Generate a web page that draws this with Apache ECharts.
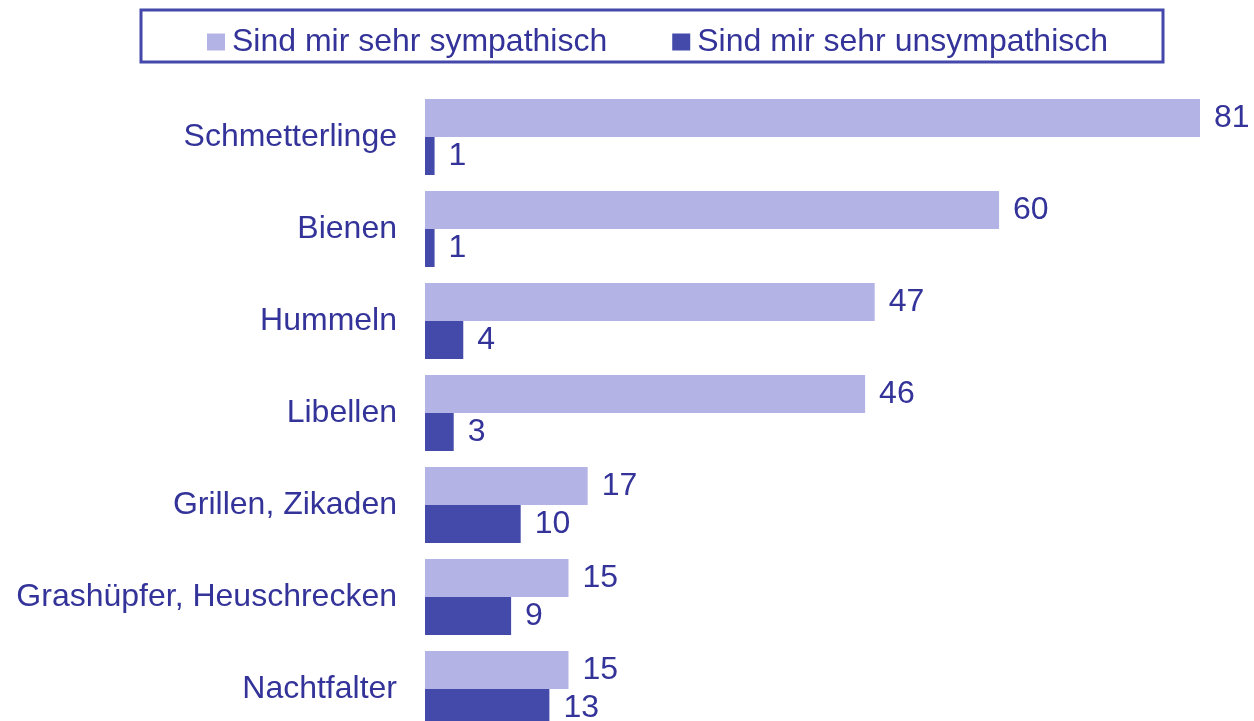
<!DOCTYPE html>
<html>
<head>
<meta charset="utf-8">
<script src="https://cdn.jsdelivr.net/npm/echarts@6/dist/echarts.min.js"></script>
<style>
  html, body { margin: 0; padding: 0; background: #ffffff; }
  #chart { width: 1254px; height: 721px; }
</style>
</head>
<body>
<div id="chart"></div>
<script>
// Insekten: sympathisch / unsympathisch (Prozent)
var categories = [
  "Schmetterlinge",
  "Bienen",
  "Hummeln",
  "Libellen",
  "Grillen, Zikaden",
  "Grashüpfer, Heuschrecken",
  "Nachtfalter"
];
var sympathisch = [81, 60, 47, 46, 17, 15, 15];
var unsympathisch = [1, 1, 4, 3, 10, 9, 13];
var seriesNames = ["Sind mir sehr sympathisch", "Sind mir sehr unsympathisch"];

var textColor = "#333399";
var fontFam = "'Liberation Sans', Arial, sans-serif";

var chart = echarts.init(document.getElementById("chart"));

var option = {
  backgroundColor: "#ffffff",
  animation: false,
  color: ["#b3b3e5", "#434aaa"],
  graphic: [
    {
      type: "rect",
      shape: { x: 141, y: 10, width: 1022, height: 52 },
      style: { fill: "none", stroke: "#4448aa", lineWidth: 3 },
      z: 10
    }
  ],
  legend: {
    left: 202,
    top: 21,
    itemWidth: 18,
    itemHeight: 17,
    itemGap: 65,
    icon: "rect",
    textStyle: {
      color: textColor,
      fontSize: 32,
      fontFamily: fontFam,
      lineHeight: 32,
      padding: [0, 0, 0, 2]
    },
    data: seriesNames
  },
  grid: {
    left: 425,
    right: 54,
    top: 91,
    height: 644,
    outerBoundsMode: "none",
    containLabel: false
  },
  xAxis: {
    type: "value",
    min: 0,
    max: 81,
    show: false
  },
  yAxis: {
    type: "category",
    inverse: true,
    data: categories,
    axisLine: { show: false },
    axisTick: { show: false },
    axisLabel: {
      color: textColor,
      fontSize: 32,
      fontFamily: fontFam,
      margin: 28
    }
  },
  series: [
    {
      name: seriesNames[0],
      type: "bar",
      data: sympathisch,
      barWidth: 38,
      barGap: "0%",
      label: {
        show: true,
        position: "right",
        distance: 14,
        color: textColor,
        fontSize: 32,
        fontFamily: fontFam
      }
    },
    {
      name: seriesNames[1],
      type: "bar",
      data: unsympathisch,
      barWidth: 38,
      barGap: "0%",
      label: {
        show: true,
        position: "right",
        distance: 14,
        color: textColor,
        fontSize: 32,
        fontFamily: fontFam
      }
    }
  ]
};

chart.setOption(option);
</script>
</body>
</html>
